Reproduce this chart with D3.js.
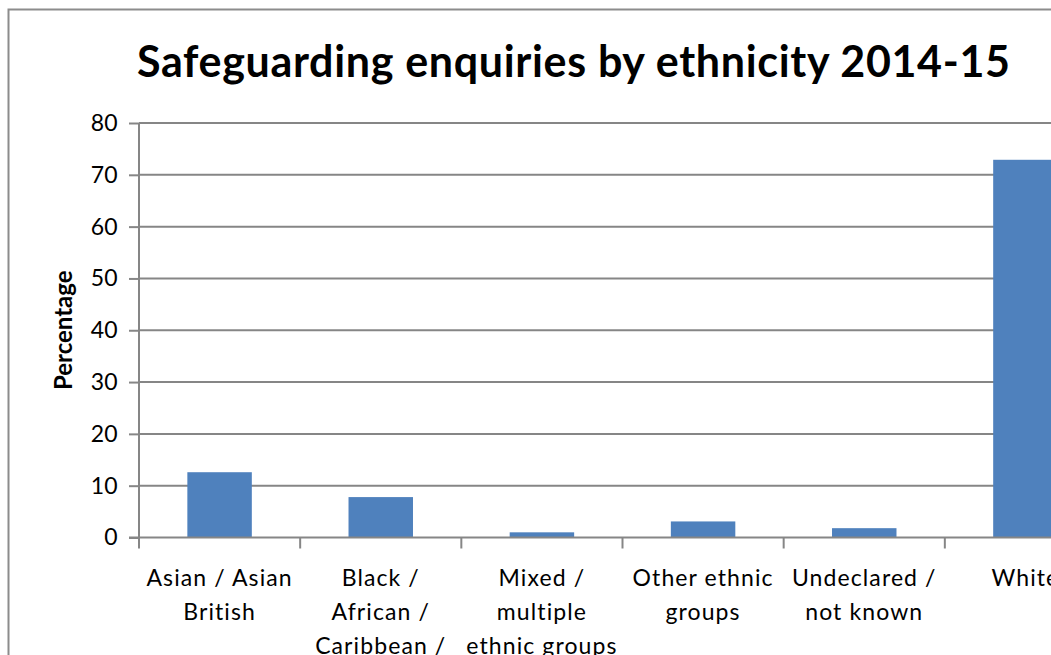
<!DOCTYPE html>
<html>
<head>
<meta charset="utf-8">
<script src="https://cdn.jsdelivr.net/npm/d3@7"></script>
<style>
  html, body { margin: 0; padding: 0; background: #fff; overflow: hidden; }
  svg { display: block; }
  text { font-family: Lato, "Noto Sans", sans-serif; fill: #000; }
</style>
</head>
<body>
<svg id="chart" width="1051" height="655"></svg>
<script>
// Share of safeguarding enquiries by ethnic group, 2014-15 (%)
const categories = [
  ["Asian / Asian", "British"],
  ["Black /", "African /", "Caribbean /", "Black British"],
  ["Mixed /", "multiple", "ethnic groups"],
  ["Other ethnic", "groups"],
  ["Undeclared /", "not known"],
  ["White"]
];
const values = [12.6, 7.8, 1.0, 3.1, 1.8, 72.9];
const yTicks = [0, 10, 20, 30, 40, 50, 60, 70, 80];
const title = "Safeguarding enquiries by ethnicity 2014-15";
const yTitle = "Percentage";

const plot = { left: 139, right: 1106, top: 123, bottom: 537.5 };
const gridColor = "#868686";
const barColor = "#4F81BD";

const svg = d3.select("#chart");

// chart frame (runs past the right and bottom edges of the view)
svg.append("rect")
  .attr("x", 8.5).attr("y", 9.5)
  .attr("width", 1200).attr("height", 800)
  .attr("fill", "#fff")
  .attr("stroke", "#8c8c8c").attr("stroke-width", 2);

const keys = categories.map((c, i) => i);
const x = d3.scaleBand()
  .domain(keys)
  .range([plot.left, plot.right])
  .paddingInner(0.6)
  .paddingOuter(0.3);

const y = d3.scaleLinear()
  .domain([0, 80])
  .range([plot.bottom, plot.top]);

// horizontal gridlines
svg.append("g")
  .selectAll("line")
  .data(yTicks.filter(t => t > 0))
  .join("line")
  .attr("x1", plot.left).attr("x2", plot.right)
  .attr("y1", d => y(d)).attr("y2", d => y(d))
  .attr("stroke", gridColor).attr("stroke-width", 2);

// bars
svg.append("g")
  .selectAll("rect")
  .data(values)
  .join("rect")
  .attr("x", (d, i) => x(i))
  .attr("width", x.bandwidth())
  .attr("y", d => y(d))
  .attr("height", d => y(0) - y(d))
  .attr("fill", barColor);

// y axis
const yAxis = svg.append("g")
  .attr("transform", `translate(${plot.left},0)`)
  .call(d3.axisLeft(y).tickValues(yTicks).tickSize(10).tickPadding(11).tickFormat(d3.format("d")));
yAxis.select(".domain").attr("stroke", gridColor).attr("stroke-width", 2)
  .attr("d", `M0,${plot.top}V${plot.bottom + 10}`);
yAxis.selectAll(".tick line").attr("stroke", gridColor).attr("stroke-width", 2);
yAxis.selectAll(".tick text")
  .style("font-family", "Lato, sans-serif")
  .attr("font-size", 23).attr("letter-spacing", 0.3).attr("fill", "#000");

// x axis baseline and category boundary ticks
const step = x.step();
const x0 = plot.left;
svg.append("line")
  .attr("x1", plot.left - 10).attr("x2", plot.right)
  .attr("y1", y(0)).attr("y2", y(0))
  .attr("stroke", gridColor).attr("stroke-width", 2);
svg.append("g")
  .selectAll("line")
  .data(d3.range(categories.length + 1))
  .join("line")
  .attr("x1", i => x0 + i * step).attr("x2", i => x0 + i * step)
  .attr("y1", y(0)).attr("y2", y(0) + 11)
  .attr("stroke", gridColor).attr("stroke-width", 2);

// category labels, wrapped
const lab = svg.append("g")
  .selectAll("text")
  .data(categories)
  .join("text")
  .attr("text-anchor", "middle")
  .attr("font-size", 23)
  .attr("letter-spacing", 1.1)
  .attr("transform", (d, i) => `translate(${x(i) + x.bandwidth() / 2},${y(0) + 48})`);
lab.selectAll("tspan")
  .data(d => d)
  .join("tspan")
  .attr("x", 0)
  .attr("y", (d, j) => j * 34)
  .text(d => d);

// y axis title
svg.append("text")
  .attr("transform", `translate(72,${(plot.top + plot.bottom) / 2}) rotate(-90)`)
  .attr("text-anchor", "middle")
  .attr("font-size", 24)
  .attr("font-weight", "bold")
  .text(yTitle);

// chart title
svg.append("text")
  .attr("x", 573.5).attr("y", 77)
  .attr("text-anchor", "middle")
  .attr("font-size", 43)
  .attr("font-weight", "bold")
  .attr("textLength", 873)
  .attr("lengthAdjust", "spacing")
  .text(title);
</script>
</body>
</html>
